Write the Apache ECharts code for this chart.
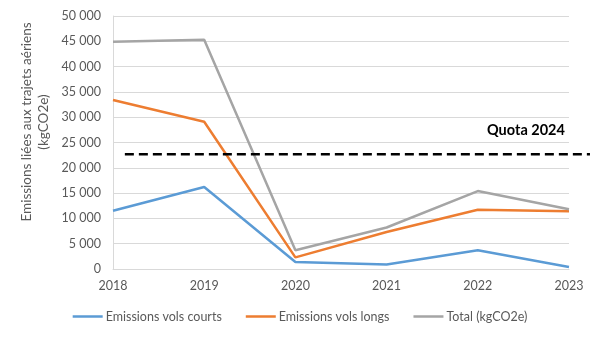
<!DOCTYPE html>
<html><head><meta charset="utf-8">
<script src="https://cdn.jsdelivr.net/npm/echarts@6/dist/echarts.min.js"></script>
<style>html,body{margin:0;padding:0;background:#fff}#c{width:600px;height:338px}</style>
</head><body><div id="c"></div>
<script>
const years = ['2018','2019','2020','2021','2022','2023'];
const courts = [11500, 16200, 1400, 900, 3700, 400];
const longs = [33400, 29100, 2300, 7300, 11700, 11400];
const total = [44900, 45300, 3700, 8200, 15400, 11800];
const quotaX = [0.13, 5.23];
const quotaValue = 22700;
const yTicks = {min: 0, max: 50000, interval: 5000};

const font = 'Lato, "Open Sans", sans-serif';
const chart = echarts.init(document.getElementById('c'));
const fmt = v => String(v).replace(/\B(?=(\d{3})+(?!\d))/g, ' ');
chart.setOption({
  animation: false,
  grid: [{left: 113, right: 31, top: 16, bottom: 69}, {left: 113, right: 10, top: 16, bottom: 69}],
  xAxis: [{
    type: 'category', data: years, boundaryGap: false, gridIndex: 0,
    axisLine: {lineStyle: {color: '#d9d9d9', width: 1}},
    axisTick: {show: false},
    axisLabel: {color: '#595959', fontSize: 12.5, fontFamily: font, margin: 10}
  }, {
    type: 'value', gridIndex: 1, min: 0, max: 5 * 477 / 456, show: false
  }],
  yAxis: [{
    type: 'value', gridIndex: 0, min: yTicks.min, max: yTicks.max, interval: yTicks.interval,
    axisLine: {show: true, lineStyle: {color: '#d9d9d9', width: 1}},
    axisTick: {show: false},
    splitLine: {lineStyle: {color: '#d9d9d9', width: 1}},
    axisLabel: {color: '#595959', fontSize: 12.5, fontFamily: font, margin: 12, formatter: fmt}
  }, {
    type: 'value', gridIndex: 1, min: yTicks.min, max: yTicks.max, show: false
  }],
  legend: {
    bottom: 10, left: 'center', icon: 'rect', itemWidth: 30, itemHeight: 2.5, itemGap: 24,
    textStyle: {color: '#595959', fontSize: 12.5, fontFamily: font, padding: [0,0,0,-2]},
    data: ['Emissions vols courts', 'Emissions vols longs', 'Total (kgCO2e)']
  },
  series: [
    {name: 'Emissions vols courts', type: 'line', data: courts, symbol: 'none',
     lineStyle: {color: '#5B9BD5', width: 2.5}, itemStyle: {color: '#5B9BD5'}},
    {name: 'Emissions vols longs', type: 'line', data: longs, symbol: 'none',
     lineStyle: {color: '#ED7D31', width: 2.5}, itemStyle: {color: '#ED7D31'}},
    {name: 'Total (kgCO2e)', type: 'line', data: total, symbol: 'none',
     lineStyle: {color: '#A5A5A5', width: 2.5}, itemStyle: {color: '#A5A5A5'}},
    {name: 'Quota 2024', type: 'line', xAxisIndex: 1, yAxisIndex: 1, clip: false, symbol: 'none',
     data: quotaX.map(x => [x, quotaValue]),
     lineStyle: {color: '#000', width: 2.5, type: [9, 5]}}
  ],
  graphic: [
    {type: 'text', left: 487, top: 123,
     style: {text: 'Quota 2024', fontSize: 14.5, fontWeight: 'bold', fontFamily: font, fill: '#000'}},
    {type: 'text', x: 35, y: 122, rotation: Math.PI / 2,
     style: {text: 'Emissions liées aux trajets aériens\n(kgCO2e)', fontSize: 13.5, fontFamily: font,
       fill: '#595959', align: 'center', verticalAlign: 'middle', lineHeight: 17}}
  ]
});
</script></body></html>
